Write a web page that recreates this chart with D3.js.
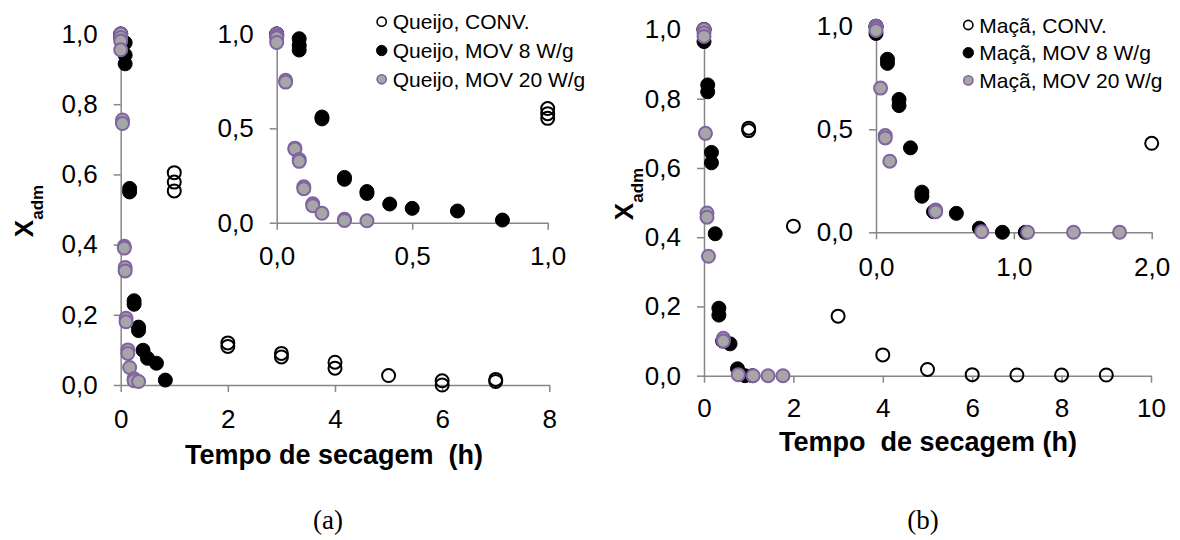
<!DOCTYPE html>
<html><head><meta charset="utf-8">
<script src="https://cdn.jsdelivr.net/npm/d3@7"></script>
<style>
body{margin:0;background:#fff}
svg{display:block}
</style>
</head><body><svg id="c" width="1180" height="540"></svg>
<script>
// ---------- data (time in h, Xadm) ----------
const queijoConvT  = [0,1,1,1,2,2,3,3,4,4,5,6,6,7,7];
const queijoConvX  = [1.0,0.605,0.578,0.553,0.12,0.11,0.09,0.08,0.065,0.048,0.027,0.012,0.0,0.016,0.01];
const queijoMov8T  = [0,0,0.083,0.083,0.083,0.167,0.167,0.25,0.25,0.333,0.333,0.417,0.5,0.667,0.833];
const queijoMov8X  = [1.0,0.99,0.975,0.94,0.915,0.56,0.55,0.24,0.23,0.165,0.155,0.099,0.076,0.062,0.014];
const queijoMov20T = [0,0,0,0,0.033,0.033,0.067,0.067,0.083,0.083,0.1,0.1,0.133,0.133,0.167,0.25,0.25,0.333];
const queijoMov20X = [1.0,0.99,0.98,0.955,0.755,0.745,0.395,0.39,0.335,0.325,0.19,0.18,0.10,0.09,0.05,0.018,0.012,0.01];

const macaConvT  = [0,1,1,2,3,4,5,6,7,8,9];
const macaConvX  = [1.0,0.715,0.708,0.432,0.172,0.06,0.018,0.003,0.002,0.002,0.002];
const macaMov8T  = [0,0,0.083,0.083,0.167,0.167,0.25,0.333,0.333,0.417,0.583,0.75,0.917,1.083];
const macaMov8X  = [1.0,0.965,0.84,0.82,0.645,0.615,0.41,0.195,0.175,0.1,0.092,0.02,0.0,0.0];
const macaMov20T = [0,0,0,0.033,0.067,0.067,0.1,0.433,0.433,0.767,1.1,1.433,1.767];
const macaMov20X = [1.0,0.99,0.98,0.7,0.47,0.458,0.345,0.108,0.1,0.003,0.0,0.0,0.0];

const queijoLegend = ["Queijo, CONV.", "Queijo, MOV 8 W/g", "Queijo, MOV 20 W/g"];
const macaLegend   = ["Maçã, CONV.", "Maçã, MOV 8 W/g", "Maçã, MOV 20 W/g"];

const mainYTicks        = [0,0.2,0.4,0.6,0.8,1.0];
const insetYTicks       = [0,0.5,1.0];
const queijoMainXTicks  = [0,2,4,6,8];
const queijoInsetXTicks = [0,0.5,1.0];
const macaMainXTicks    = [0,2,4,6,8,10];
const macaInsetXTicks   = [0,1,2];

const xTitleA = "Tempo de secagem  (h)";
const xTitleB = "Tempo  de secagem (h)";
const captions = ["(a)", "(b)"];

// ---------- styles ----------
const SANS = "'Liberation Sans', Arial, sans-serif";
const SERIF = "'Liberation Serif', 'Times New Roman', serif";
const AXIS = "#868686";
const styles = [
  {fill:"none", stroke:"#000", sw:2, r:6.5},
  {fill:"#000", stroke:"#000", sw:1, r:7},
  {fill:"#A6A6A6", stroke:"#8064A2", sw:2, r:6.5}
];
const svg = d3.select("#c");
const comma = f => v => f(v).replace(".", ",");
const f1 = comma(d3.format(".1f"));
const f0 = d3.format("d");

function zip(t, x){ return t.map((v,i)=>({t:v, x:x[i]})); }

function drawAxes(g, xs, ys, xTicks, yTicks, xfmt, pad){
  const ax = g.append("g").attr("transform", `translate(0,${ys(0)})`)
    .call(d3.axisBottom(xs).tickValues(xTicks).tickFormat(xfmt).tickSize(7).tickSizeOuter(0).tickPadding(pad));
  const ay = g.append("g").attr("transform", `translate(${xs(0)},0)`)
    .call(d3.axisLeft(ys).tickValues(yTicks).tickFormat(f1).tickSize(7).tickSizeOuter(0).tickPadding(16));
  [ax, ay].forEach(a => {
    a.attr("font-family", null).attr("font-size", null);
    a.selectAll("path,line").attr("stroke", AXIS).attr("stroke-width", 1.5);
    a.selectAll("text").style("font-size", "26px").style("font-family", SANS).attr("fill", "#000");
  });
}

function drawPoints(g, xs, ys, series, tmax){
  series.forEach((s, i) => {
    const st = styles[i];
    g.append("g").selectAll("circle")
      .data(s.filter(d => d.t <= tmax + 1e-9))
      .join("circle")
      .attr("cx", d => xs(d.t)).attr("cy", d => ys(d.x)).attr("r", st.r)
      .attr("fill", st.fill).attr("stroke", st.stroke).attr("stroke-width", st.sw);
  });
}

function drawLegend(g, labels, x, y0, dy, bg){
  g.append("rect").attr("x", bg[0]).attr("y", bg[1]).attr("width", bg[2]).attr("height", bg[3]).attr("fill", "#fff");
  labels.forEach((lab, i) => {
    const st = styles[i];
    const cy = y0 + i*dy;
    g.append("circle").attr("cx", x).attr("cy", cy).attr("r", i===1 ? 5.2 : 4.6)
      .attr("fill", st.fill).attr("stroke", st.stroke).attr("stroke-width", i===1 ? 1 : 1.6);
    g.append("text").attr("x", x + 11).attr("y", cy).attr("dy", "0.36em")
      .style("font-family", SANS).style("font-size", "21px").text(lab);
  });
}

function yLabel(g, x, y){
  const t = g.append("text").attr("transform", `translate(${x},${y}) rotate(-90)`)
    .attr("text-anchor", "middle").style("font-family", SANS).style("font-weight", "bold");
  t.append("tspan").style("font-size", "26px").text("X");
  t.append("tspan").style("font-size", "17px").attr("dy", 10).text("adm");
}

function panel(cfg){
  const g = svg.append("g");
  const series = [zip(cfg.convT, cfg.convX), zip(cfg.m8T, cfg.m8X), zip(cfg.m20T, cfg.m20X)];
  // main
  const xs = d3.scaleLinear().domain(cfg.mainXDom).range(cfg.mainXR);
  const ys = d3.scaleLinear().domain([0,1]).range(cfg.mainYR);
  drawAxes(g, xs, ys, cfg.mainXTicks, mainYTicks, f0, cfg.mainPad);
  drawPoints(g, xs, ys, series, cfg.mainXDom[1]);
  // inset
  const xi = d3.scaleLinear().domain(cfg.insXDom).range(cfg.insXR);
  const yi = d3.scaleLinear().domain([0,1]).range(cfg.insYR);
  drawAxes(g, xi, yi, cfg.insXTicks, insetYTicks, f1, cfg.insPad);
  drawPoints(g, xi, yi, series, cfg.insXDom[1]);
  drawLegend(g, cfg.legend, cfg.legX, cfg.legY, cfg.legDy, cfg.legBg);
  yLabel(g, cfg.ylab[0], cfg.ylab[1]);
  g.append("text").attr("x", cfg.xt[0]).attr("y", cfg.xt[1]).attr("text-anchor", "middle")
    .style("font-family", SANS).style("font-weight", "bold").style("font-size", "27px")
    .style("white-space", "pre").text(cfg.xTitle);
  g.append("text").attr("x", cfg.cap[0]).attr("y", cfg.cap[1]).attr("text-anchor", "middle")
    .style("font-family", SERIF).style("font-size", "27px").text(cfg.caption);
}

panel({
  convT: queijoConvT, convX: queijoConvX, m8T: queijoMov8T, m8X: queijoMov8X, m20T: queijoMov20T, m20X: queijoMov20X,
  mainXDom:[0,8], mainXR:[120.7,549.3], mainYR:[385,34], mainXTicks: queijoMainXTicks, mainPad: 18,
  insXDom:[0,1], insXR:[276.7,547.7], insYR:[222.7,34], insXTicks: queijoInsetXTicks, insPad: 17,
  legend: queijoLegend, legX: 381.7, legY: 21.7, legDy: 28.8, legBg:[372,4,218,90],
  ylab:[33,211], xt:[334,464], xTitle: xTitleA, cap:[328,529], caption: captions[0]
});
panel({
  convT: macaConvT, convX: macaConvX, m8T: macaMov8T, m8X: macaMov8X, m20T: macaMov20T, m20X: macaMov20X,
  mainXDom:[0,10], mainXR:[704,1151], mainYR:[375.7,29.5], mainXTicks: macaMainXTicks, mainPad: 16,
  insXDom:[0,2], insXR:[876,1151.7], insYR:[232.3,26.3], insXTicks: macaInsetXTicks, insPad: 18,
  legend: macaLegend, legX: 968.3, legY: 25, legDy: 27.7, legBg:[958,8,215,86],
  ylab:[633,194], xt:[928,451], xTitle: xTitleB, cap:[923,529], caption: captions[1]
});
</script>
</body></html>
